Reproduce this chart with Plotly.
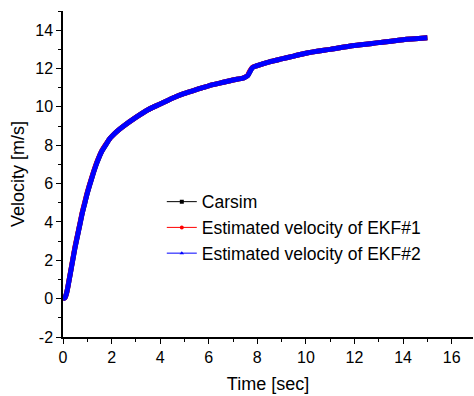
import plotly.graph_objects as go

time_s = [0, 0.05, 0.1, 0.15, 0.2, 0.25, 0.3, 0.4, 0.5, 0.6, 0.7, 0.8, 0.9, 1.0,
          1.2, 1.4, 1.6, 1.8, 1.9, 2.0, 2.2, 2.5, 3.0, 3.5, 4.0, 4.5, 5.0, 5.5,
          6.0, 6.5, 7.0, 7.4, 7.5, 7.6, 7.7, 7.8, 8.0, 8.5, 9.0, 9.5, 10.0,
          11.0, 12.0, 13.0, 14.0, 15.0]
carsim = [0, 0.02, 0.1, 0.3, 0.6, 0.95, 1.3, 2.0, 2.7, 3.3, 3.9, 4.5, 5.0, 5.5,
          6.35, 7.1, 7.7, 8.1, 8.3, 8.45, 8.7, 9.0, 9.45, 9.85, 10.15, 10.45,
          10.7, 10.9, 11.1, 11.25, 11.4, 11.5, 11.55, 11.62, 11.85, 12.05,
          12.15, 12.35, 12.5, 12.65, 12.8, 13.0, 13.2, 13.35, 13.5, 13.6]
ekf1 = [0, 0.02, 0.1, 0.3, 0.62, 0.98, 1.33, 2.05, 2.75, 3.35, 3.95, 4.55, 5.05, 5.55,
        6.4, 7.15, 7.72, 8.12, 8.3, 8.45, 8.7, 9.0, 9.45, 9.85, 10.15, 10.45,
        10.7, 10.9, 11.1, 11.25, 11.4, 11.5, 11.55, 11.65, 11.9, 12.07,
        12.15, 12.35, 12.5, 12.65, 12.8, 13.0, 13.2, 13.35, 13.5, 13.6]
ekf2 = [0, 0.02, 0.1, 0.3, 0.6, 0.95, 1.3, 2.0, 2.7, 3.3, 3.9, 4.5, 5.0, 5.5,
        6.35, 7.1, 7.7, 8.1, 8.3, 8.45, 8.7, 9.0, 9.45, 9.85, 10.15, 10.45,
        10.7, 10.9, 11.1, 11.25, 11.4, 11.5, 11.55, 11.62, 11.85, 12.05,
        12.15, 12.35, 12.5, 12.65, 12.8, 13.0, 13.2, 13.35, 13.5, 13.6]

x_ticks = [0, 2, 4, 6, 8, 10, 12, 14, 16]
y_ticks = [-2, 0, 2, 4, 6, 8, 10, 12, 14]
y_tick_labels = ["-2", "0", "2", "4", "6", "8", "10", "12", "14"]

names = ["Carsim", "Estimated velocity of EKF#1", "Estimated velocity of EKF#2"]
colors = ["#000000", "#ff0000", "#0000ff"]
symbols = ["square", "circle", "triangle-up"]
series = [carsim, ekf1, ekf2]

fig = go.Figure()
for vals, c in zip(series, colors):
    fig.add_trace(go.Scatter(x=time_s, y=vals, mode="lines", showlegend=False,
                             line=dict(color=c, width=5, shape="spline", smoothing=0.6)))
for n, c, s in zip(names, colors, symbols):
    fig.add_trace(go.Scatter(x=[None], y=[None], mode="lines+markers", name=n,
                             line=dict(color=c, width=1),
                             marker=dict(color=c, symbol=s, size=4)))

font = "Arial, Liberation Sans, sans-serif"
fig.update_layout(
    width=474, height=396,
    margin=dict(l=63, r=1, t=11, b=59),
    paper_bgcolor="white", plot_bgcolor="white",
    font=dict(family=font, size=16, color="#000"),
    showlegend=True,
    legend=dict(x=0.241, y=0.47, xanchor="left", yanchor="top",
                bgcolor="rgba(0,0,0,0)", font=dict(size=17.5), tracegroupgap=0,
                itemwidth=30),
    xaxis=dict(range=[0, 16.88], tickmode="array", tickvals=x_ticks,
               ticks="outside", ticklen=5, tickwidth=1, tickcolor="#000",
               showline=True, linecolor="#000", linewidth=1.5, showgrid=False,
               zeroline=False, tickfont=dict(size=16),
               minor=dict(dtick=1, ticks="outside", ticklen=3, tickcolor="#000"),
               title=dict(text="Time [sec]", font=dict(size=18), standoff=12)),
    yaxis=dict(range=[-2, 15], tickmode="array", tickvals=y_ticks, ticktext=y_tick_labels,
               ticks="outside", ticklen=5, tickwidth=1, tickcolor="#000",
               showline=True, linecolor="#000", linewidth=1.5, showgrid=False,
               zeroline=False, tickfont=dict(size=16),
               minor=dict(dtick=1, ticks="outside", ticklen=3, tickcolor="#000"),
               title=dict(text="Velocity [m/s]", font=dict(size=18), standoff=6)),
)
fig.write_html("out.html")
